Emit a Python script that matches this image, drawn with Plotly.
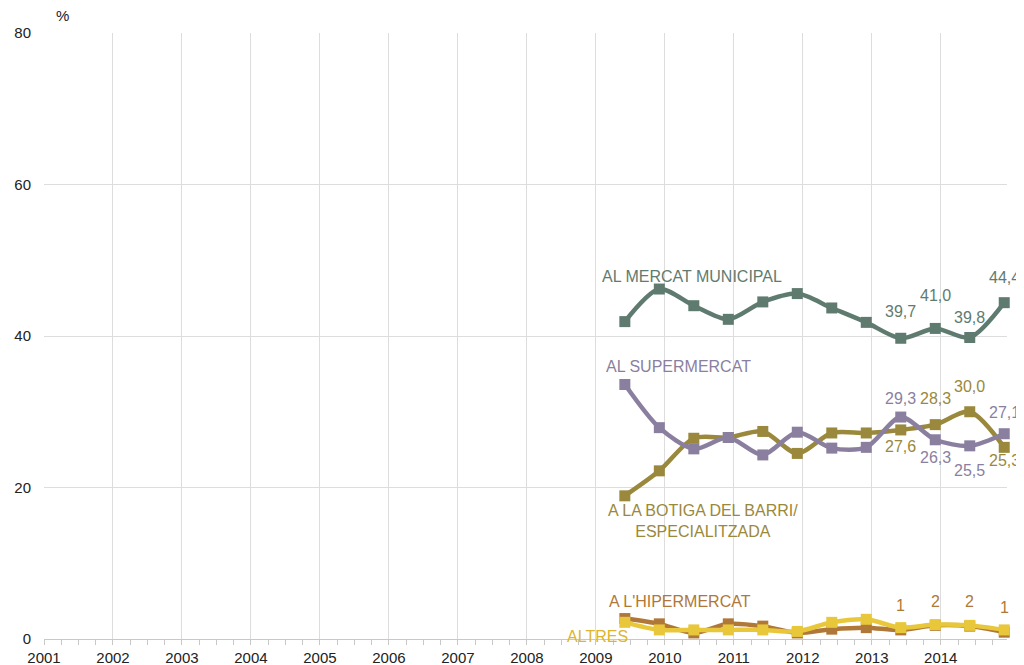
import plotly.graph_objects as go

periods = [2009.42, 2009.92, 2010.42, 2010.92, 2011.42, 2011.92,
           2012.42, 2012.92, 2013.42, 2013.92, 2014.42, 2014.92]

municipal = [41.9, 46.2, 44.0, 42.2, 44.5, 45.6, 43.7, 41.8, 39.7, 41.0, 39.8, 44.4]
supermercat = [33.6, 27.9, 25.1, 26.6, 24.3, 27.3, 25.2, 25.3, 29.3, 26.3, 25.5, 27.1]
botiga = [18.9, 22.2, 26.5, 26.6, 27.4, 24.5, 27.2, 27.2, 27.6, 28.3, 30.0, 25.3]
hipermercat = [2.7, 2.0, 0.8, 2.0, 1.7, 0.8, 1.3, 1.5, 1.2, 1.8, 1.7, 0.9]
altres = [2.2, 1.2, 1.2, 1.2, 1.2, 1.0, 2.2, 2.6, 1.5, 1.9, 1.8, 1.2]

years = list(range(2001, 2015))

C_MUN = "#5F7B70"
C_SUP = "#8B7FA0"
C_BOT = "#9A883C"
C_HIP = "#B07838"
C_ALT = "#E8C83A"

FONT = "Liberation Sans, Arial, sans-serif"

fig = go.Figure()

series = [
    ("Hipermercat", hipermercat, C_HIP),
    ("Altres", altres, C_ALT),
    ("Botiga", botiga, C_BOT),
    ("Supermercat", supermercat, C_SUP),
    ("Municipal", municipal, C_MUN),
]
for name, vals, col in series:
    fig.add_trace(go.Scatter(
        x=periods, y=vals, mode="lines+markers", name=name,
        line=dict(color=col, width=4.5, shape="spline", smoothing=0.8),
        marker=dict(symbol="square", size=11, color=col),
        showlegend=False, cliponaxis=False,
    ))

ann = []

def lab(x, y, text, color, xanchor="center", yanchor="middle", size=16, xshift=0):
    ann.append(dict(x=x, y=y, xref="x", yref="y", text=text, showarrow=False,
                    font=dict(family=FONT, size=size, color=color),
                    xanchor=xanchor, yanchor=yanchor, xshift=xshift))

def dec(v):
    return f"{v:.1f}".replace(".", ",")

# series labels
lab(2009.06, 47.8, "AL MERCAT MUNICIPAL", C_MUN, xanchor="left")
lab(2009.12, 36.0, "AL SUPERMERCAT", C_SUP, xanchor="left")
lab(2010.55, 15.6, "A LA BOTIGA DEL BARRI/<br>ESPECIALITZADA", C_BOT)
lab(2009.16, 4.9, "A L'HIPERMERCAT", C_HIP, xanchor="left")
lab(2009.03, 0.3, "ALTRES", "#DDB52E")

# value labels (offsets in % units)
mun_off = {8: 3.5, 9: 4.4, 10: 2.7, 11: 3.3}
for i, o in mun_off.items():
    lab(periods[i], municipal[i] + o, dec(municipal[i]), C_MUN)
sup_off = {8: 2.5, 9: -2.4, 10: -3.3, 11: 2.85}
for i, o in sup_off.items():
    lab(periods[i], supermercat[i] + o, dec(supermercat[i]), C_SUP)
bot_off = {8: -2.25, 9: 3.4, 10: 3.4, 11: -1.7}
for i, o in bot_off.items():
    lab(periods[i], botiga[i] + o, dec(botiga[i]), C_BOT)
for i in [8, 9, 10, 11]:
    lab(periods[i], hipermercat[i] + 3.2, f"{hipermercat[i]:.0f}", C_HIP)

ann.append(dict(x=0.0187, y=1.0, xref="paper", yref="paper", text="%",
                showarrow=False, xanchor="center", yanchor="middle", yshift=18,
                font=dict(family=FONT, size=15, color="#222")))

fig.update_layout(
    width=1016, height=657,
    margin=dict(l=36, r=17, t=25, b=26),
    paper_bgcolor="white", plot_bgcolor="white",
    font=dict(family=FONT, size=15, color="#222"),
    annotations=ann,
    xaxis=dict(
        range=[2001, 2014.96],
        tickmode="array", tickvals=years, ticktext=[str(y) for y in years],
        showgrid=True, gridcolor="#DDDDDD", gridwidth=1,
        showline=True, linecolor="#C8C8C8", linewidth=1,
        ticks="outside", ticklen=5, tickcolor="#C8C8C8",
        minor=dict(dtick=0.25, tick0=2001, ticks="outside", ticklen=5,
                   tickcolor="#C8C8C8", showgrid=False),
        tickfont=dict(family=FONT, size=15, color="#222"),
        ticklabelstandoff=0,
        zeroline=False, automargin=False,
    ),
    yaxis=dict(
        range=[0, 80], tickvals=[0, 20, 40, 60, 80],
        showgrid=True, gridcolor="#DDDDDD", gridwidth=1,
        showline=False, zeroline=False, ticks="",
        ticklabelstandoff=12,
        tickfont=dict(family=FONT, size=15, color="#222"),
        automargin=False,
    ),
)

fig.write_html("out.html")
